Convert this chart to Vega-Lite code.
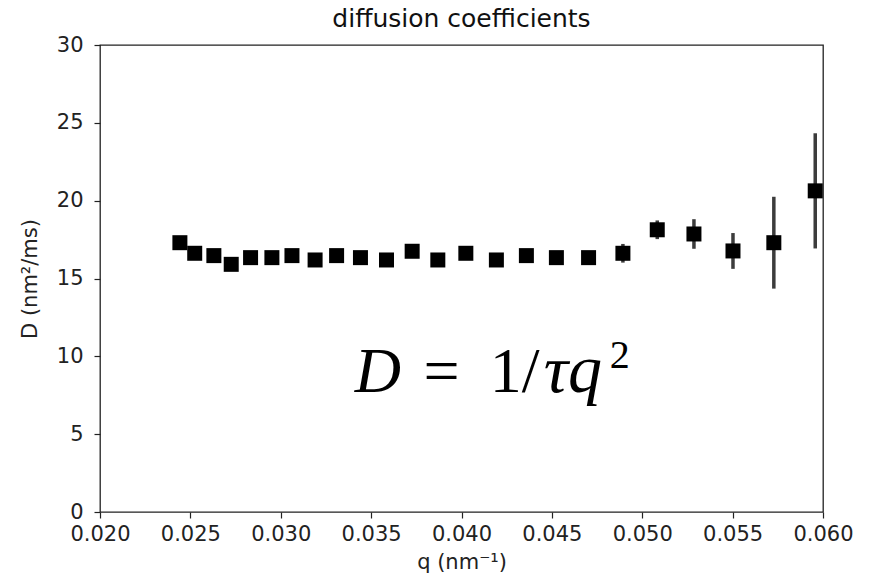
{
  "$schema": "https://vega.github.io/schema/vega-lite/v6.json",
  "autosize": "none",
  "padding": {"left": 100, "top": 45, "right": 46, "bottom": 72},
  "width": 723,
  "height": 467,
  "background": "white",
  "title": {"text": "diffusion coefficients", "font": "DejaVu Sans", "fontSize": 25, "fontWeight": "normal", "color": "#111", "offset": 2, "anchor": "middle"},
  "config": {
    "view": {"stroke": "#222", "strokeWidth": 1.3},
    "axis": {"labelFont": "DejaVu Sans", "labelFontSize": 21, "labelColor": "#222", "titleFont": "DejaVu Sans", "titleFontSize": 21, "titleFontWeight": "normal", "titleColor": "#222", "tickColor": "#222", "tickSize": 6, "tickWidth": 1.2, "grid": false, "domain": false, "labelFlush": false, "labelOverlap": false}
  },
  "data": {"values": [
    {"q": 0.02442, "D": 17.30, "lo": 17.05, "hi": 17.55},
    {"q": 0.02524, "D": 16.62, "lo": 16.37, "hi": 16.87},
    {"q": 0.02630, "D": 16.47, "lo": 16.22, "hi": 16.72},
    {"q": 0.02726, "D": 15.91, "lo": 15.66, "hi": 16.16},
    {"q": 0.02833, "D": 16.34, "lo": 16.09, "hi": 16.59},
    {"q": 0.02951, "D": 16.34, "lo": 16.09, "hi": 16.59},
    {"q": 0.03062, "D": 16.47, "lo": 16.22, "hi": 16.72},
    {"q": 0.03190, "D": 16.19, "lo": 15.94, "hi": 16.44},
    {"q": 0.03309, "D": 16.47, "lo": 16.22, "hi": 16.72},
    {"q": 0.03441, "D": 16.34, "lo": 16.09, "hi": 16.59},
    {"q": 0.03585, "D": 16.19, "lo": 15.94, "hi": 16.44},
    {"q": 0.03727, "D": 16.75, "lo": 16.50, "hi": 17.00},
    {"q": 0.03869, "D": 16.19, "lo": 15.94, "hi": 16.44},
    {"q": 0.04024, "D": 16.62, "lo": 16.37, "hi": 16.87},
    {"q": 0.04193, "D": 16.19, "lo": 15.94, "hi": 16.44},
    {"q": 0.04359, "D": 16.47, "lo": 16.22, "hi": 16.72},
    {"q": 0.04525, "D": 16.34, "lo": 16.09, "hi": 16.59},
    {"q": 0.04703, "D": 16.34, "lo": 16.09, "hi": 16.59},
    {"q": 0.04893, "D": 16.62, "lo": 16.02, "hi": 17.22},
    {"q": 0.05083, "D": 18.13, "lo": 17.53, "hi": 18.73},
    {"q": 0.05286, "D": 17.86, "lo": 16.91, "hi": 18.81},
    {"q": 0.05502, "D": 16.77, "lo": 15.62, "hi": 17.92},
    {"q": 0.05728, "D": 17.30, "lo": 14.35, "hi": 20.25},
    {"q": 0.05957, "D": 20.63, "lo": 16.93, "hi": 24.33}
  ]},
  "encoding": {
    "x": {"field": "q", "type": "quantitative", "scale": {"domain": [0.02, 0.06], "nice": false, "zero": false}, "axis": {"title": "q (nm⁻¹)", "values": [0.02, 0.025, 0.03, 0.035, 0.04, 0.045, 0.05, 0.055, 0.06], "format": ".3f", "labelPadding": 5, "titlePadding": 7}}
  },
  "layer": [
    {
      "mark": {"type": "rule", "color": "#3c3c3c", "strokeWidth": 3.5},
      "encoding": {
        "y": {"field": "lo", "type": "quantitative", "scale": {"domain": [0, 30], "nice": false}, "axis": {"title": "D (nm²/ms)", "values": [0, 5, 10, 15, 20, 25, 30], "labelPadding": 11, "titlePadding": 16}},
        "y2": {"field": "hi"}
      }
    },
    {
      "mark": {"type": "point", "shape": "square", "filled": true, "size": 225, "color": "black", "opacity": 1},
      "encoding": {
        "y": {"field": "D", "type": "quantitative"}
      }
    },
    {
      "data": {"values": [{"q": 0.04189, "D": 7.7, "label": "D"}]},
      "mark": {"type": "text", "font": "Liberation Serif", "fontStyle": "italic", "fontSize": 64, "align": "left", "baseline": "alphabetic", "color": "black", "dx": -141},
      "encoding": {"y": {"field": "D", "type": "quantitative"}, "text": {"field": "label"}}
    },
    {
      "data": {"values": [{"q": 0.04189, "D": 7.7, "label": "="}]},
      "mark": {"type": "text", "font": "Liberation Serif", "fontSize": 64, "align": "center", "baseline": "alphabetic", "color": "black", "dx": -54},
      "encoding": {"y": {"field": "D", "type": "quantitative"}, "text": {"field": "label"}}
    },
    {
      "data": {"values": [{"q": 0.04189, "D": 7.7, "label": "1/"}]},
      "mark": {"type": "text", "font": "Liberation Serif", "fontSize": 64, "align": "left", "baseline": "alphabetic", "color": "black", "dx": -6},
      "encoding": {"y": {"field": "D", "type": "quantitative"}, "text": {"field": "label"}}
    },
    {
      "data": {"values": [{"q": 0.04189, "D": 7.7, "label": "τq"}]},
      "mark": {"type": "text", "font": "Liberation Serif", "fontStyle": "italic", "fontSize": 68, "align": "left", "baseline": "alphabetic", "color": "black", "dx": 48},
      "encoding": {"y": {"field": "D", "type": "quantitative"}, "text": {"field": "label"}}
    },
    {
      "data": {"values": [{"q": 0.04189, "D": 7.7, "label": "2"}]},
      "mark": {"type": "text", "font": "Liberation Serif", "fontSize": 40, "align": "left", "baseline": "alphabetic", "color": "black", "dx": 114, "dy": -24},
      "encoding": {"y": {"field": "D", "type": "quantitative"}, "text": {"field": "label"}}
    }
  ]
}
